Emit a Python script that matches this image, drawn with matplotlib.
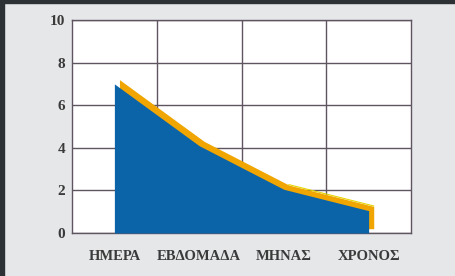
import numpy as np
import matplotlib.pyplot as plt

# data
categories = ["ΗΜΕΡΑ", "ΕΒΔΟΜΑΔΑ", "ΜΗΝΑΣ", "ΧΡΟΝΟΣ"]
values = [7.0, 4.1, 2.05, 1.05]
y_ticks = [0, 2, 4, 6, 8, 10]

fig = plt.figure(figsize=(4.55, 2.76), dpi=100)
fig.patch.set_facecolor("#e6e7e9")

# dark frame at top and left
fig.add_artist(plt.Rectangle((0, 1 - 3 / 276), 1, 3 / 276, transform=fig.transFigure,
                             color="#2c3136", zorder=0))
fig.add_artist(plt.Rectangle((0, 0), 4 / 455, 1, transform=fig.transFigure,
                             color="#2c3136", zorder=0))

ax = fig.add_axes([72 / 455, 1 - 233 / 276, 339 / 455, 213 / 276])
ax.set_facecolor("white")

x = np.arange(len(categories)) + 0.5
y = np.array(values)

# orange shadow band, shifted right and up
ax.fill_between(x + 0.06, y + 0.2, 0.2, color="#f0a500", zorder=2, linewidth=0)
ax.plot(x[2:] + 0.06, y[2:] + 0.22, color="#e6d400", lw=0.8, zorder=2)
# blue area
ax.fill_between(x, y, 0, color="#0b63a8", zorder=3, linewidth=0)

ax.set_xlim(0, 4)
ax.set_ylim(0, 10)
ax.set_xticks(x)
ax.set_xticklabels(categories)
ax.set_yticks(y_ticks)
ax.set_xticks([1, 2, 3], minor=True)
ax.grid(True, which="minor", axis="x", color="#5e5560", lw=1.0, zorder=1)
ax.grid(True, which="major", axis="y", color="#5e5560", lw=1.0, zorder=1)
ax.tick_params(length=0, which="both")
ax.tick_params(axis="x", pad=12)
ax.tick_params(axis="y", pad=5)
for lab in ax.get_xticklabels():
    lab.set_fontfamily("Liberation Serif")
    lab.set_fontweight("bold")
    lab.set_fontsize(10.5)
    lab.set_color("#3a3a3a")
for lab in ax.get_yticklabels():
    lab.set_fontfamily("Liberation Serif")
    lab.set_fontweight("bold")
    lab.set_fontsize(11)
    lab.set_color("#3a3a3a")
for s in ax.spines.values():
    s.set_color("#5e5560")
    s.set_linewidth(1.0)

plt.savefig("out.png", dpi=100)
